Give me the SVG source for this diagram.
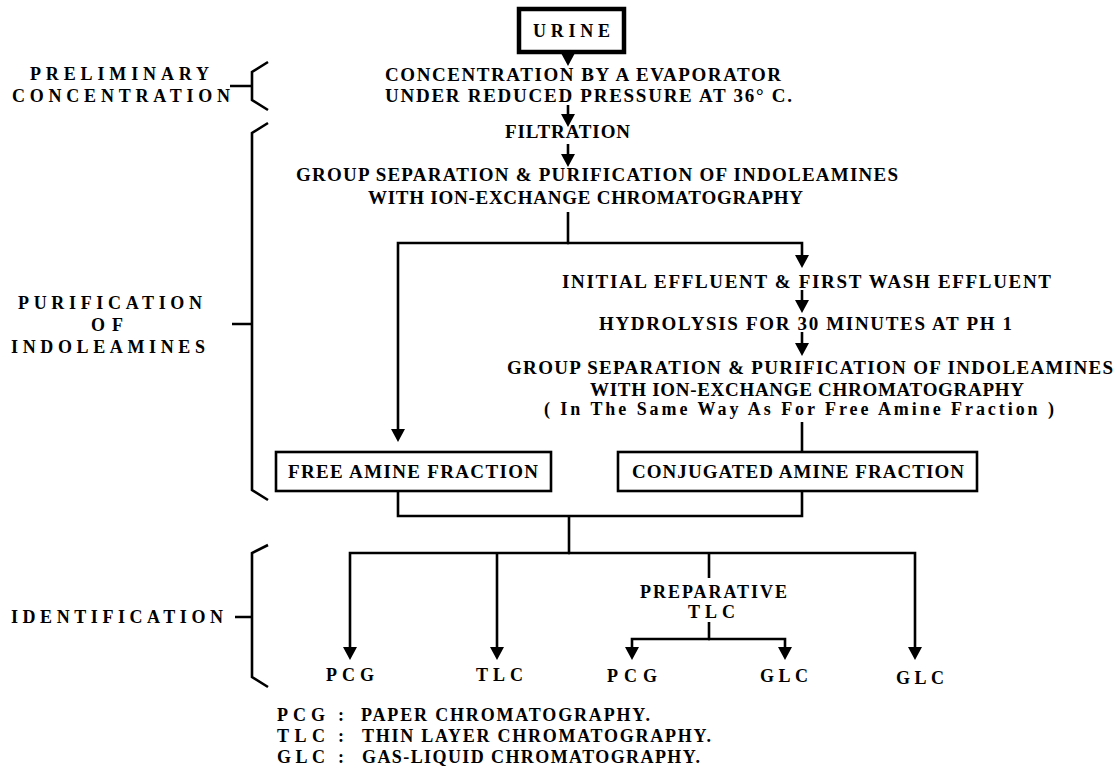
<svg xmlns="http://www.w3.org/2000/svg" width="1116" height="766" viewBox="0 0 1116 766">
<defs>
<marker id="ah" markerUnits="userSpaceOnUse" markerWidth="14" markerHeight="14" refX="9" refY="7" orient="auto">
<path d="M0,0 L13,7 L0,14 z" fill="#000"/>
</marker>
<style>
text{font-family:"Liberation Serif","DejaVu Serif",serif;font-weight:bold;fill:#000;}
.m{font-size:19px;}
.l{font-size:18px;}
.s{font-size:18px;}
.ln{fill:none;stroke:#000;stroke-width:2.6;}
.box{fill:#fff;stroke:#000;stroke-width:2.6;}
</style>
</defs>
<rect width="1116" height="766" fill="#fff"/>

<g id="connectors">
<path class="ln" d="M568,52 V62" marker-end="url(#ah)"/>
<path class="ln" d="M568,105 V123" marker-end="url(#ah)"/>
<path class="ln" d="M568,144 V163" marker-end="url(#ah)"/>
<path class="ln" d="M568,212 V243"/>
<path class="ln" d="M569,243 H398 V438" marker-end="url(#ah)"/>
<path class="ln" d="M567,243 H802 V264" marker-end="url(#ah)"/>
<path class="ln" d="M802,290 V309" marker-end="url(#ah)"/>
<path class="ln" d="M802,332 V352" marker-end="url(#ah)"/>
<path class="ln" d="M802,422 V452"/>
<path class="ln" d="M398,491 V516 H802 V491"/>
<path class="ln" d="M569,516 V553"/>
<path class="ln" d="M570,553 H350 V656" marker-end="url(#ah)"/>
<path class="ln" d="M497,553 V656" marker-end="url(#ah)"/>
<path class="ln" d="M568,553 H915 V656" marker-end="url(#ah)"/>
<path class="ln" d="M709,553 V578"/>
<path class="ln" d="M709,622 V639"/>
<path class="ln" d="M710,639 H632 V656" marker-end="url(#ah)"/>
<path class="ln" d="M708,639 H785 V656" marker-end="url(#ah)"/>
</g>

<g id="braces">
<path class="ln" d="M268,62 L252,72 V100 L268,110 M230,86 H252"/>
<path class="ln" d="M268,123 L252,133 V490 L268,500 M232,324 H252"/>
<path class="ln" d="M268,545 L252,553 V677 L268,687 M235,617 H252"/>
</g>

<g id="stage-labels">
<text class="l" x="30" y="80" textLength="179" lengthAdjust="spacing">PRELIMINARY</text>
<text class="l" x="12" y="102" textLength="218" lengthAdjust="spacing">CONCENTRATION</text>
<text class="l" x="18" y="309" textLength="184" lengthAdjust="spacing">PURIFICATION</text>
<text class="l" x="91" y="331" textLength="32" lengthAdjust="spacing">OF</text>
<text class="l" x="11" y="353" textLength="194" lengthAdjust="spacing">INDOLEAMINES</text>
<text class="l" x="11" y="623" textLength="212" lengthAdjust="spacing">IDENTIFICATION</text>
</g>

<g id="urine">
<rect x="519" y="9" width="105" height="43" fill="#fff" stroke="#000" stroke-width="4.5"/>
<text class="l" x="533" y="37" textLength="77" lengthAdjust="spacing">URINE</text>
</g>

<g id="concentration">
<text class="m" x="385" y="81" textLength="396" lengthAdjust="spacing">CONCENTRATION BY A EVAPORATOR</text>
<text class="m" x="385" y="102" textLength="407" lengthAdjust="spacing">UNDER REDUCED PRESSURE AT 36° C.</text>
</g>

<g id="filtration">
<text class="m" x="505" y="138" textLength="125" lengthAdjust="spacing">FILTRATION</text>
</g>

<g id="group-separation-1">
<text class="m" x="296" y="181" textLength="602" lengthAdjust="spacing">GROUP SEPARATION &amp; PURIFICATION OF INDOLEAMINES</text>
<text class="m" x="368" y="204" textLength="435" lengthAdjust="spacing">WITH ION-EXCHANGE CHROMATOGRAPHY</text>
</g>

<g id="initial-effluent">
<text class="m" x="562" y="288" textLength="489" lengthAdjust="spacing">INITIAL EFFLUENT &amp; FIRST WASH EFFLUENT</text>
</g>

<g id="hydrolysis">
<text class="m" x="599" y="330" textLength="413" lengthAdjust="spacing">HYDROLYSIS FOR 30 MINUTES AT PH 1</text>
</g>

<g id="group-separation-2">
<text class="m" x="507" y="374" textLength="606" lengthAdjust="spacing">GROUP SEPARATION &amp; PURIFICATION OF INDOLEAMINES</text>
<text class="m" x="590" y="396" textLength="434" lengthAdjust="spacing">WITH ION-EXCHANGE CHROMATOGRAPHY</text>
<text class="s" x="544" y="415" textLength="510" lengthAdjust="spacing">( In The Same Way As For Free Amine Fraction )</text>
</g>

<g id="free-amine">
<rect class="box" x="276" y="452" width="275" height="39"/>
<text class="m" x="288" y="478" textLength="250" lengthAdjust="spacing">FREE AMINE FRACTION</text>
</g>

<g id="conjugated-amine">
<rect class="box" x="618" y="452" width="359" height="39"/>
<text class="m" x="632" y="478" textLength="332" lengthAdjust="spacing">CONJUGATED AMINE FRACTION</text>
</g>

<g id="preparative-tlc">
<text class="s" x="640" y="598" textLength="147" lengthAdjust="spacing">PREPARATIVE</text>
<text class="s" x="688" y="618" textLength="47" lengthAdjust="spacing">TLC</text>
</g>

<g id="pcg-1"><text class="s" x="326" y="681" textLength="48" lengthAdjust="spacing">PCG</text></g>
<g id="tlc"><text class="s" x="476" y="681" textLength="47" lengthAdjust="spacing">TLC</text></g>
<g id="pcg-2"><text class="s" x="607" y="682" textLength="50" lengthAdjust="spacing">PCG</text></g>
<g id="glc-1"><text class="s" x="760" y="682" textLength="48" lengthAdjust="spacing">GLC</text></g>
<g id="glc-2"><text class="s" x="896" y="684" textLength="48" lengthAdjust="spacing">GLC</text></g>

<g id="legend">
<text class="s" x="277" y="721" textLength="48" lengthAdjust="spacing">PCG</text>
<text class="s" x="338" y="721">:</text>
<text class="s" x="361" y="721" textLength="289" lengthAdjust="spacing">PAPER CHROMATOGRAPHY.</text>
<text class="s" x="277" y="742" textLength="48" lengthAdjust="spacing">TLC</text>
<text class="s" x="338" y="742">:</text>
<text class="s" x="362" y="742" textLength="349" lengthAdjust="spacing">THIN LAYER CHROMATOGRAPHY.</text>
<text class="s" x="277" y="763" textLength="48" lengthAdjust="spacing">GLC</text>
<text class="s" x="338" y="763">:</text>
<text class="s" x="362" y="763" textLength="338" lengthAdjust="spacing">GAS-LIQUID CHROMATOGRAPHY.</text>
</g>
</svg>
